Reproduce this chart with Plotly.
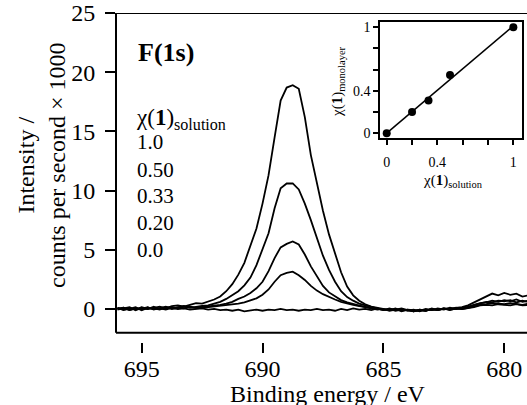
import plotly.graph_objects as go
import numpy as np

# ---------------- data ----------------
energy = [696.0, 695.75, 695.5, 695.25, 695.0, 694.75, 694.5, 694.25, 694.0, 693.75,
          693.5, 693.25, 693.0, 692.75, 692.5, 692.25, 692.0, 691.75, 691.5, 691.25,
          691.0, 690.75, 690.5, 690.25, 690.0, 689.75, 689.5, 689.25, 689.0, 688.75,
          688.5, 688.25, 688.0, 687.75, 687.5, 687.25, 687.0, 686.75, 686.5, 686.25,
          686.0, 685.75, 685.5, 685.25, 685.0, 684.75, 684.5, 684.25, 684.0, 683.75,
          683.5, 683.25, 683.0, 682.75, 682.5, 682.25, 682.0, 681.75, 681.5, 681.25,
          681.0, 680.75, 680.5, 680.25, 680.0, 679.75, 679.5, 679.25, 679.0]

int_100 = [0.1, -0.1, 0.05, -0.05, 0.15, 0.0, 0.1, 0.2, 0.05, 0.25,
           0.3, 0.2, 0.35, 0.5, 0.45, 0.6, 0.8, 1.05, 1.5, 2.1,
           2.9, 3.9, 5.3, 6.8, 8.9, 11.3, 14.5, 17.6, 18.7, 18.9,
           18.6, 16.2, 13.0, 10.6, 8.3, 6.3, 4.6, 3.1, 1.9, 1.15,
           0.7, 0.4, 0.2, 0.1, 0.0, -0.1, 0.05, -0.15, -0.05, -0.2,
           -0.1, -0.15, 0.0, -0.1, 0.05, -0.05, 0.0, 0.1, 0.15, 0.35,
           0.5, 0.55, 0.7, 0.6, 0.75, 0.65, 0.8, 0.6, 0.7]

int_050 = [0.0, 0.1, -0.1, 0.05, 0.0, 0.15, -0.05, 0.1, 0.2, 0.05,
           0.15, 0.25, 0.1, 0.2, 0.25, 0.3, 0.45, 0.6, 0.85, 1.15,
           1.5, 2.0, 2.65, 3.7, 5.0, 6.4, 8.5, 10.2, 10.6, 10.6,
           10.1, 8.9, 7.5, 5.9, 4.5, 3.3, 2.3, 1.5, 1.0, 0.7,
           0.45, 0.3, 0.15, 0.0, -0.1, 0.05, -0.1, 0.0, -0.15, -0.05,
           -0.2, -0.05, -0.1, 0.05, -0.05, 0.1, 0.0, 0.05, 0.2, 0.3,
           0.45, 0.6, 0.55, 0.7, 0.65, 0.75, 0.55, 0.7, 0.6]

int_033 = [-0.05, 0.05, 0.15, -0.1, 0.1, 0.0, 0.2, 0.0, 0.1, 0.15,
           0.05, 0.2, 0.15, 0.1, 0.15, 0.2, 0.25, 0.35, 0.45, 0.6,
           0.85, 1.05, 1.35, 1.75, 2.3, 3.2, 4.3, 5.2, 5.5, 5.7,
           5.45, 4.6, 3.6, 2.75, 1.95, 1.4, 1.05, 0.75, 0.55, 0.4,
           0.3, 0.15, 0.05, -0.05, 0.0, -0.15, -0.05, 0.05, -0.1, -0.2,
           -0.05, -0.15, 0.05, -0.1, 0.0, -0.05, 0.1, 0.0, 0.1, 0.25,
           0.35, 0.4, 0.5, 0.45, 0.4, 0.5, 0.45, 0.35, 0.45]

int_020 = [0.1, -0.05, 0.0, 0.15, -0.1, 0.1, 0.05, -0.05, 0.15, 0.0,
           0.1, 0.05, 0.2, 0.1, 0.1, 0.15, 0.2, 0.25, 0.3, 0.35,
           0.45, 0.55, 0.7, 0.9, 1.2, 1.65, 2.3, 2.85, 3.05, 3.15,
           2.85, 2.45, 1.95, 1.55, 1.25, 1.0, 0.8, 0.6, 0.45, 0.35,
           0.25, 0.15, 0.1, 0.0, -0.05, -0.1, 0.0, -0.2, -0.05, -0.1,
           -0.15, 0.0, -0.1, -0.05, 0.05, -0.1, 0.05, 0.0, 0.05, 0.15,
           0.3, 0.35, 0.3, 0.4, 0.35, 0.3, 0.4, 0.3, 0.35]

int_000 = [0.0, 0.1, -0.1, 0.05, -0.05, 0.1, 0.0, 0.05, -0.05, 0.1,
           0.0, 0.05, -0.05, 0.0, 0.05, -0.05, 0.0, -0.1, -0.05, -0.15,
           -0.05, -0.2, -0.1, -0.05, -0.15, -0.05, -0.1, 0.0, -0.1, -0.05,
           -0.15, -0.05, -0.1, 0.0, -0.1, -0.05, -0.15, 0.0, -0.1, 0.05,
           -0.05, 0.0, -0.1, 0.05, -0.1, 0.0, -0.15, -0.05, -0.1, -0.2,
           -0.05, -0.15, 0.0, -0.1, 0.05, 0.0, 0.1, 0.15, 0.3, 0.55,
           0.8, 1.1, 1.3, 1.15, 1.35, 1.2, 1.3, 1.05, 1.15]

series_labels = ["1.0", "0.50", "0.33", "0.20", "0.0"]
spectra = [int_100, int_050, int_033, int_020, int_000]

main_yticks = [0, 5, 10, 15, 20, 25]
main_xticks = [695, 690, 685, 680]

# inset: chi(1) monolayer vs chi(1) solution
chi_solution = [0.0, 0.2, 0.33, 0.5, 1.0]
chi_monolayer = [0.0, 0.2, 0.31, 0.55, 1.0]
inset_tickvals = [0, 0.2, 0.4, 0.6, 0.8, 1.0]
inset_ticktext = ["0", "", "0.4", "", "", "1"]

# ---------------- figure ----------------
SERIF = "Liberation Serif"
W, H = 527, 405
ML, MR, MT, MB = 116, 0, 13, 63

fig = go.Figure()

for lab, ys in zip(series_labels, spectra):
    fig.add_trace(go.Scatter(x=energy, y=ys, mode="lines", name=lab,
                             line=dict(color="black", width=1.8),
                             showlegend=False, xaxis="x", yaxis="y"))

# inset points and fit line
slope, intercept = np.polyfit(chi_solution, chi_monolayer, 1)
fit_x = [min(chi_solution), max(chi_solution)]
fit_y = [slope * v + intercept for v in fit_x]
fig.add_trace(go.Scatter(x=fit_x, y=fit_y, mode="lines",
                         line=dict(color="black", width=1.5),
                         showlegend=False, xaxis="x2", yaxis="y2"))
fig.add_trace(go.Scatter(x=chi_solution, y=chi_monolayer, mode="markers",
                         marker=dict(color="black", size=8),
                         showlegend=False, xaxis="x2", yaxis="y2", cliponaxis=False))

def px_to_paper_x(px):
    return (px - ML) / (W - ML - MR)

def px_to_paper_y(py):
    return (H - MB - py) / (H - MB - MT)

fig.update_layout(
    template="none",
    width=W, height=H,
    margin=dict(l=ML, r=MR, t=MT, b=MB, pad=0, autoexpand=False),
    paper_bgcolor="white", plot_bgcolor="white",
    font=dict(family=SERIF, color="black", size=22),
    xaxis=dict(range=[696.06, 679.06], domain=[0, 1], showgrid=False, zeroline=False,
               automargin=False,
               showline=False, ticks="outside", ticklen=10, tickwidth=2, tickcolor="black",
               tickvals=main_xticks, tickfont=dict(size=24, family=SERIF),
               ticklabelstandoff=-5, anchor="y"),
    yaxis=dict(range=[-2.79, 25], domain=[0, 1], showgrid=False, zeroline=False,
               automargin=False,
               showline=False, ticks="outside", ticklen=10, tickwidth=2, tickcolor="black",
               tickvals=main_yticks, tickfont=dict(size=24, family=SERIF),
               ticklabelstandoff=5, anchor="x"),
    xaxis2=dict(range=[-0.053, 1.066], domain=[px_to_paper_x(380), px_to_paper_x(521.7)],
                automargin=False,
                anchor="y2", showgrid=False, zeroline=False, showline=True, mirror=True,
                linecolor="black", linewidth=1.5, ticks="outside", ticklen=5, tickwidth=1.5,
                tickcolor="black", tickvals=inset_tickvals, ticktext=inset_ticktext,
                tickfont=dict(size=14, family=SERIF), ticklabelstandoff=5),
    yaxis2=dict(range=[-0.047, 1.047], domain=[px_to_paper_y(138.3), px_to_paper_y(22.3)],
                automargin=False,
                anchor="x2", showgrid=False, zeroline=False, showline=True, mirror=True,
                linecolor="black", linewidth=1.5, ticks="outside", ticklen=5, tickwidth=1.5,
                tickcolor="black", tickvals=inset_tickvals, ticktext=inset_ticktext,
                tickfont=dict(size=14, family=SERIF)),
)

# frame of main panel (left, top, bottom) - Igor style with offset x ticks
frame = dict(color="black", width=2)
fig.add_shape(type="line", xref="paper", yref="y", x0=0, x1=0, y0=-2, y1=25, line=frame)
fig.add_shape(type="line", xref="paper", yref="y", x0=0, x1=1, y0=25, y1=25, line=frame)
fig.add_shape(type="line", xref="paper", yref="y", x0=0, x1=1, y0=-2, y1=-2, line=frame)

ann = []
ann.append(dict(text="<b>F(1s)</b>", x=px_to_paper_x(136), y=px_to_paper_y(52),
                xanchor="left", yanchor="middle", font=dict(size=26)))
ann.append(dict(text="χ(<b>1</b>)<sub>solution</sub>", x=px_to_paper_x(134), y=px_to_paper_y(119),
                xanchor="left", yanchor="middle", font=dict(size=23)))
label_y = [142, 169.5, 196, 223, 250]
for lab, yy in zip(series_labels, label_y):
    ann.append(dict(text=lab, x=px_to_paper_x(135), y=px_to_paper_y(yy),
                    xanchor="left", yanchor="middle", font=dict(size=21)))
ann.append(dict(text="Intensity /<br>counts per second × 1000", x=px_to_paper_x(41),
                y=px_to_paper_y(166), textangle=-90, xanchor="center", yanchor="middle",
                font=dict(size=24)))
ann.append(dict(text="Binding energy / eV", x=px_to_paper_x(327.5), y=px_to_paper_y(394),
                xanchor="center", yanchor="middle", font=dict(size=24)))
ann.append(dict(text="χ(<b>1</b>)<sub>monolayer</sub>", x=px_to_paper_x(338), y=px_to_paper_y(82),
                textangle=-90, xanchor="center", yanchor="middle", font=dict(size=15)))
ann.append(dict(text="χ(<b>1</b>)<sub>solution</sub>", x=px_to_paper_x(453), y=px_to_paper_y(181),
                xanchor="center", yanchor="middle", font=dict(size=15)))
for a in ann:
    a.update(xref="paper", yref="paper", showarrow=False)
fig.update_layout(annotations=ann)

fig.write_html("out.html", config={"displayModeBar": False},
               post_script="document.body.style.margin='0px';")
